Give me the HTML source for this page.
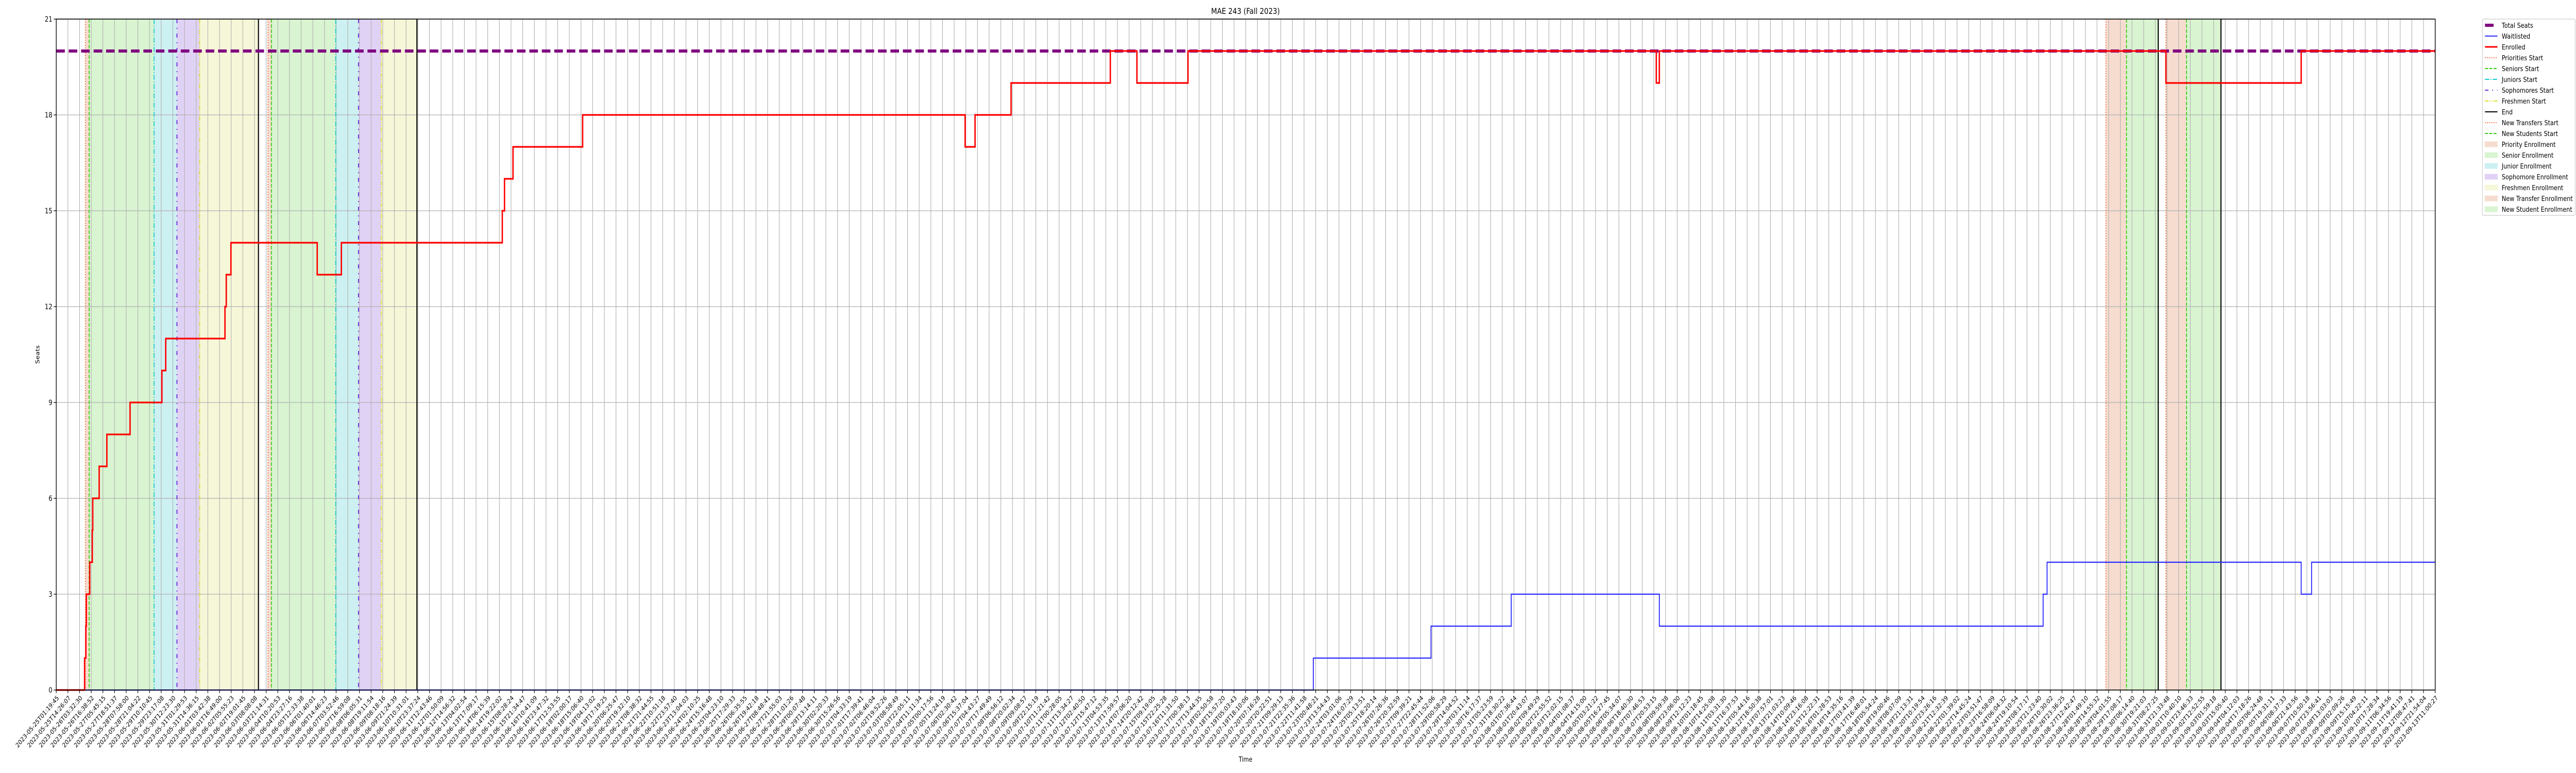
<!DOCTYPE html>
<html><head><meta charset="utf-8"><title>MAE 243 (Fall 2023)</title>
<style>html,body{margin:0;padding:0;background:#fff;overflow:hidden;width:100%;height:100%}svg{display:block;width:100vw;height:100vh}text{font-family:"DejaVu Sans","Liberation Sans",sans-serif}</style>
</head><body>
<svg id="chart" xmlns="http://www.w3.org/2000/svg" viewBox="0 0 6000 1500" preserveAspectRatio="none">
<rect width="6000" height="1500" fill="#fff"/>
<text x="2901" y="27" font-size="16" text-anchor="middle">MAE 243 (Fall 2023)</text>
<text transform="translate(92,688) rotate(-90)" font-size="13" text-anchor="middle">Seats</text>
<text x="2901" y="1478" font-size="13" text-anchor="middle">Time</text>
<g id="spans"></g><g id="grid"></g><g id="events"></g><g id="series"></g><g id="axes"></g><g id="legend"></g>
</svg>
<script>
// ---- data (x in sample-index units along the categorical time axis) ----
const tickCount = 205;
const startLabelTime = "2023-05-25T01:19:45";
const endLabelTime = "2023-09-13T11:00:27";
const yTicks = [0, 3, 6, 9, 12, 15, 18, 21];
const totalSeats = 20;
const enrolledX = [0, 2.43, 2.54, 2.58, 2.87, 3.09, 3.13, 3.68, 4.34, 6.33, 9.06, 9.39, 14.47, 14.58, 14.98, 22.38, 24.45, 38.25, 38.44, 39.17, 45.14, 77.94, 78.79, 81.88, 90.39, 92.67, 97.05, 137.21, 137.47, 180.91, 192.51];
const enrolledY = [0, 1, 2, 3, 4, 5, 6, 7, 8, 9, 10, 11, 12, 13, 14, 13, 14, 15, 16, 17, 18, 17, 18, 19, 20, 19, 20, 19, 20, 19, 20];
const waitX = [0, 107.80, 117.89, 124.77, 137.47, 170.38, 170.72, 192.51, 193.40];
const waitY = [0, 1, 2, 3, 2, 3, 4, 3, 4];
const spanKind = ["priority","senior","junior","sophomore","freshmen","priority","senior","junior","sophomore","freshmen","newtransfer","newstudent","newtransfer","newstudent"];
const spanStart = [2.50, 2.82, 8.39, 10.35, 12.30, 18.15, 18.45, 23.97, 25.92, 27.87, 175.76, 177.53, 180.91, 182.68];
const spanEnd   = [2.82, 8.39, 10.35, 12.30, 17.34, 18.45, 23.97, 25.92, 27.87, 30.93, 177.53, 180.25, 182.68, 185.63];
const eventKind = ["priorities","seniors","juniors","sophomores","freshmen","end","priorities","seniors","juniors","sophomores","freshmen","end","newtransfers","newstudents","end","newtransfers","newstudents","end"];
const eventX = [2.50, 2.82, 8.39, 10.35, 12.30, 17.34, 18.15, 18.45, 23.97, 25.92, 27.87, 30.93, 175.76, 177.53, 180.25, 180.91, 182.68, 185.63];

// ---- geometry ----
const L = 131, R = 5672, T = 37, B = 1339, Y_MAX = 21;
const NS = "http://www.w3.org/2000/svg";
function xs(i){ return L + i * (R - L) / (tickCount - 1); }
function ys(v){ return B - v * (B - T) / Y_MAX; }
function mk(tag, attrs, parent){ const e = document.createElementNS(NS, tag); for (const k in attrs) e.setAttribute(k, attrs[k]); parent.appendChild(e); return e; }
const g = id => document.getElementById(id);

const fills = {priority:"#f5dccf", senior:"#d8f4d0", junior:"#cdf0f2", sophomore:"#e0d2f4", freshmen:"#f6f7d8", newtransfer:"#f5dccf", newstudent:"#d8f4d0"};
const evStyle = {
  priorities:{c:"#ee6a33", d:"2,3", w:2},
  seniors:{c:"#33cc11", d:"7,3", w:2},
  juniors:{c:"#11cccc", d:"10,3,2,3", w:2},
  sophomores:{c:"#6a2ad8", d:"8,9,2,9", w:2.2},
  freshmen:{c:"#dddd22", d:"8,3,2,3,2,3", w:2},
  end:{c:"#000", d:"", w:2.5},
  newtransfers:{c:"#ee6a33", d:"2,3", w:2},
  newstudents:{c:"#33cc11", d:"7,3", w:2}
};

// spans
spanKind.forEach((k, n) => {
  const r = mk("rect", {x: xs(spanStart[n]), y: T, width: xs(spanEnd[n]) - xs(spanStart[n]), height: B - T, fill: fills[k]}, g("spans"));
  
  
});

// grid
for (let i = 0; i < tickCount; i++) {
  const l = mk("line", {x1: xs(i), x2: xs(i), y1: T, y2: B, stroke: "#b0b0b0", "stroke-width": 1.3}, g("grid"));
  
  
}
yTicks.forEach(v => {
  const l = mk("line", {x1: L, x2: R, y1: ys(v), y2: ys(v), stroke: "#b0b0b0", "stroke-width": 1.3}, g("grid"));
  
  
});

// event lines
eventKind.forEach((k, n) => {
  const s = evStyle[k];
  const l = mk("line", {x1: xs(eventX[n]), x2: xs(eventX[n]), y1: T, y2: B, stroke: s.c, "stroke-width": s.w}, g("events"));
  if (s.d) l.setAttribute("stroke-dasharray", s.d);
  
  
});

// series
const ts = mk("line", {x1: L, x2: R, y1: ys(totalSeats), y2: ys(totalSeats), stroke: "#800080", "stroke-width": 6, "stroke-dasharray": "20,9"}, g("series"));


function stepPath(xa, ya){
  let d = "M" + xs(xa[0]) + "," + ys(ya[0]);
  for (let k = 1; k < xa.length; k++) { d += " H" + xs(xa[k]) + " V" + ys(ya[k]); }
  d += " H" + xs(tickCount - 1);
  return d;
}
const wl = mk("path", {d: stepPath(waitX, waitY), fill: "none", stroke: "#2a2aff", "stroke-width": 2.2}, g("series"));


const en = mk("path", {d: stepPath(enrolledX, enrolledY), fill: "none", stroke: "#ff0000", "stroke-width": 3.2}, g("series"));



// axes
const ax = g("axes");
const frame = mk("rect", {x: L, y: T, width: R - L, height: B - T, fill: "none", stroke: "#000", "stroke-width": 1.6}, ax);


yTicks.forEach(v => {
  mk("line", {x1: L - 6, x2: L, y1: ys(v), y2: ys(v), stroke: "#000", "stroke-width": 1.3}, ax);
  const t = mk("text", {x: L - 9, y: ys(v) + 5, "font-size": 14, "text-anchor": "end"}, ax);
  t.textContent = String(v);
  
  
});
const t0 = Date.parse(startLabelTime + "Z"), t1 = Date.parse(endLabelTime + "Z");
const tickLabels = [];
for (let i = 0; i < tickCount; i++) {
  tickLabels.push(new Date(t0 + (t1 - t0) * i / (tickCount - 1)).toISOString().slice(0, 19));
}
tickLabels[0] = startLabelTime; tickLabels[tickCount - 1] = endLabelTime;
tickLabels.forEach((lab, i) => {
  const x = xs(i);
  mk("line", {x1: x, x2: x, y1: B, y2: B + 6, stroke: "#000", "stroke-width": 1.3}, ax);
  const t = mk("text", {transform: "translate(" + (x + 4) + "," + (B + 13) + ") rotate(-45)", "font-size": 12.5, "text-anchor": "end", "dominant-baseline": "central"}, ax);
  t.textContent = lab;
  
  
});

// legend
const lg = g("legend");
const box = mk("rect", {x: 5782, y: 37, width: 216, height: 381, fill: "#fff", stroke: "#cccccc", "stroke-width": 1.3, rx: 3}, lg);


const legendLabels = ["Total Seats","Waitlisted","Enrolled","Priorities Start","Seniors Start","Juniors Start","Sophomores Start","Freshmen Start","End","New Transfers Start","New Students Start","Priority Enrollment","Senior Enrollment","Junior Enrollment","Sophomore Enrollment","Freshmen Enrollment","New Transfer Enrollment","New Student Enrollment"];
const legendKeys = ["total","wait","enr","priorities","seniors","juniors","sophomores","freshmen","end","newtransfers","newstudents","priority","senior","junior","sophomore","freshmen","newtransfer","newstudent"];
legendLabels.forEach((lab, n) => {
  const cy = 49 + n * 21.0;
  const k = legendKeys[n];
  const hx1 = 5788, hx2 = 5817;
  if (k === "total") mk("line", {x1: hx1, x2: hx1 + 20, y1: cy, y2: cy, stroke: "#800080", "stroke-width": 6}, lg);
  else if (k === "wait") mk("line", {x1: hx1, x2: hx2, y1: cy, y2: cy, stroke: "#2a2aff", "stroke-width": 2}, lg);
  else if (k === "enr") mk("line", {x1: hx1, x2: hx2, y1: cy, y2: cy, stroke: "#ff0000", "stroke-width": 3}, lg);
  else if (n < 11) { const s = evStyle[k]; const l = mk("line", {x1: hx1, x2: hx2, y1: cy, y2: cy, stroke: s.c, "stroke-width": 2}, lg); if (s.d) l.setAttribute("stroke-dasharray", s.d); }
  else mk("rect", {x: hx1, y: cy - 5, width: hx2 - hx1, height: 10, fill: fills[k], stroke: fills[k]}, lg);
  const t = mk("text", {x: 5827, y: cy + 5, "font-size": 13.5}, lg);
  t.textContent = lab;
  
  
});
</script>
</body></html>
